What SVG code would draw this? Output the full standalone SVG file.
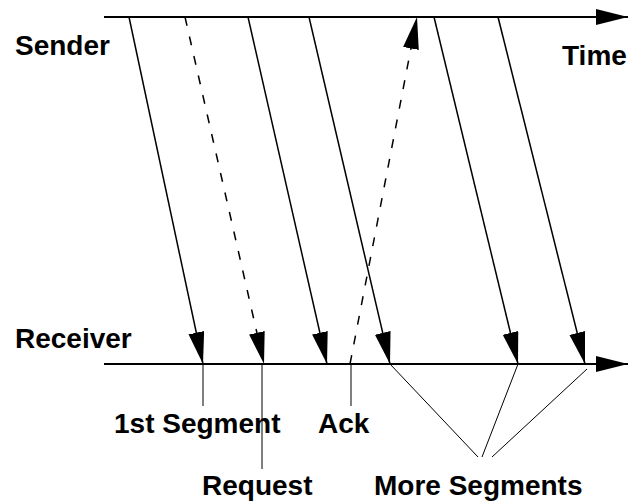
<svg xmlns="http://www.w3.org/2000/svg" width="640" height="503" viewBox="0 0 640 503">
<style>
.lbl{font-family:"Liberation Sans",Arial,sans-serif;font-weight:bold;font-size:28px;fill:#000}
.axis{stroke:#000;stroke-width:2;fill:none}
.msg{stroke:#000;stroke-width:1.5;fill:none}
.dash{stroke-dasharray:9 11}
.lead{stroke:#000;stroke-width:1;fill:none}
</style>
<defs>
<marker id="ah" markerUnits="userSpaceOnUse" markerWidth="34" markerHeight="18" refX="32" refY="8" orient="auto" viewBox="0 0 34 18">
<path d="M0,0 L32,8 L0,16 z" fill="#000"/>
</marker>
</defs>
<g id="sender-axis">
<line class="axis" x1="104" y1="17" x2="628" y2="17" marker-end="url(#ah)"/>
<text class="lbl" x="15" y="55">Sender</text>
<text class="lbl" x="562" y="65">Time</text>
</g>
<g id="receiver-axis">
<line class="axis" x1="104" y1="364" x2="628" y2="364" marker-end="url(#ah)"/>
<text class="lbl" x="15" y="348">Receiver</text>
</g>
<g id="connectors">
<line class="msg" x1="129" y1="17" x2="203" y2="364" marker-end="url(#ah)"/>
<line class="msg dash" x1="185" y1="17" x2="264" y2="364" marker-end="url(#ah)"/>
<line class="msg" x1="248" y1="17" x2="327" y2="364" marker-end="url(#ah)"/>
<line class="msg" x1="309" y1="17" x2="390" y2="364" marker-end="url(#ah)"/>
<line class="msg dash" x1="350" y1="364" x2="417" y2="17" marker-end="url(#ah)"/>
<line class="msg" x1="434" y1="17" x2="518" y2="364" marker-end="url(#ah)"/>
<line class="msg" x1="498" y1="17" x2="585" y2="364" marker-end="url(#ah)"/>
</g>
<g id="label-1st-segment">
<line class="lead" x1="203" y1="364" x2="203" y2="406"/>
<text class="lbl" x="114" y="433">1st Segment</text>
</g>
<g id="label-request">
<line class="lead" x1="262" y1="364" x2="262" y2="469"/>
<text class="lbl" x="202" y="495">Request</text>
</g>
<g id="label-ack">
<line class="lead" x1="351" y1="364" x2="351" y2="406"/>
<text class="lbl" x="318" y="433">Ack</text>
</g>
<g id="label-more-segments">
<line class="lead" x1="390" y1="364" x2="478" y2="457"/>
<line class="lead" x1="518" y1="364" x2="482" y2="457"/>
<line class="lead" x1="587" y1="369" x2="492" y2="457"/>
<text class="lbl" x="374" y="495">More Segments</text>
</g>
</svg>
